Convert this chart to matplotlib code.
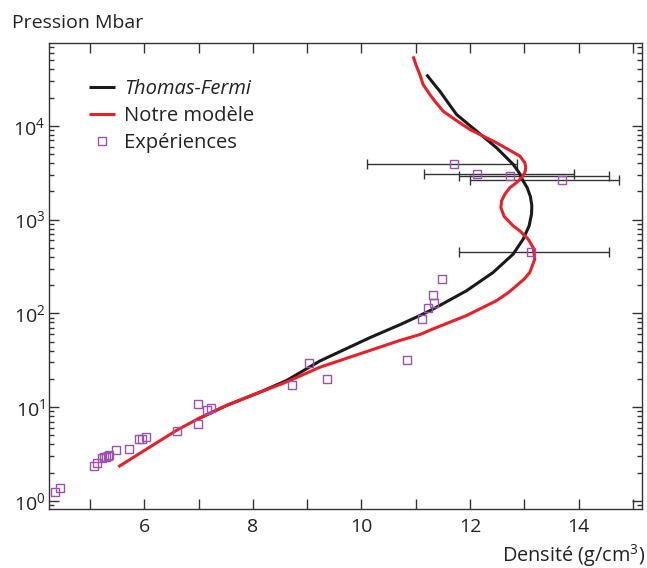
import numpy as np
import matplotlib
matplotlib.use('Agg')
import matplotlib.pyplot as plt
from matplotlib.ticker import FixedLocator, FuncFormatter, LogLocator, NullFormatter

plt.rcParams['font.family'] = ['Open Sans', 'DejaVu Sans']
plt.rcParams['mathtext.default'] = 'regular'

# Thomas-Fermi curve (density g/cm3, pressure Mbar)
tf_density = [6.965, 7.517, 8.131, 8.622, 9.236, 10.157, 10.704, 11.077, 11.322,
              11.937, 12.427, 12.796, 12.980, 13.090, 13.134, 13.140, 13.115,
              13.054, 12.980, 12.906, 12.796, 12.643, 12.490, 12.306, 12.122,
              11.937, 11.753, 11.599, 11.446, 11.322, 11.201]
tf_pressure = [7.35, 10.4, 14.4, 19.2, 31.0, 55.0, 75.3, 94.6, 111,
               174, 273, 428, 618, 857, 1141, 1400, 1750,
               2190, 2581, 3162, 3883, 4760, 5834, 7170, 8783,
               10770, 13220, 17570, 23400, 28650, 35200]

# "Notre modèle" curve
model_density = [5.521, 6.105, 6.597, 6.965, 7.517, 8.131, 8.622, 9.236, 10.157,
                 10.704, 11.077, 11.322, 11.937, 12.490, 12.700, 12.858, 13.000,
                 13.103, 13.195, 13.164, 13.072, 12.919, 12.796, 12.630, 12.570,
                 12.582, 12.643, 12.735, 12.858, 12.950, 13.011, 13.029, 13.011,
                 12.919, 12.703, 12.490, 12.243, 11.998, 11.722, 11.506, 11.354,
                 11.262, 11.138, 11.077, 11.004, 10.954]
model_pressure = [2.30, 3.75, 5.65, 7.35, 10.4, 14.4, 18.5, 26.6, 40.1,
                  51.2, 59.3, 68.2, 94.6, 136.5, 165, 197, 232,
                  273, 379, 504, 618, 758, 857, 1080, 1342,
                  1581, 1862, 2190, 2477, 2800, 3162, 3575, 4040,
                  4760, 5610, 6590, 7770, 9150, 11700, 14330, 18320,
                  21600, 27560, 35200, 45000, 55100]

# Experimental points without error bars
exp_density = [4.355, 4.447, 5.074, 5.123, 5.215, 5.258, 5.295, 5.337, 5.355,
               5.473, 5.718, 5.908, 5.967, 6.028, 6.597, 6.994, 6.989, 7.149,
               7.238, 8.715, 9.028, 9.359, 10.843, 11.120, 11.230, 11.341,
               11.317, 11.483]
exp_pressure = [1.25, 1.37, 2.34, 2.50, 2.83, 2.90, 2.94, 2.99, 3.04,
                3.51, 3.55, 4.59, 4.59, 4.74, 5.55, 10.9, 6.55, 9.22,
                9.80, 17.2, 29.2, 20.0, 31.9, 86.3, 114, 130,
                158, 230]

# Experimental points with horizontal error bars (low / high density bounds)
bar_density = [13.116, 11.698, 12.127, 12.735, 13.687]
bar_pressure = [453, 3945, 3040, 2896, 2664]
bar_low = [11.801, 10.096, 11.151, 11.801, 12.000]
bar_high = [14.564, 12.858, 13.919, 14.564, 14.748]

purple = '#9a52ad'

fig = plt.figure(figsize=(6.47, 5.68), dpi=100)
ax = fig.add_axes([0.0762, 0.1033, 0.9161, 0.8205])

bd = np.array(bar_density)
xerr = np.vstack([bd - np.array(bar_low), np.array(bar_high) - bd])
ax.errorbar(bar_density, bar_pressure, xerr=xerr, fmt='none', ecolor='#333333',
            elinewidth=1.0, capsize=3.3, capthick=1.0, zorder=1)

ax.plot(tf_density, tf_pressure, color='#1a1a1a', lw=2.2, zorder=2,
        label='Thomas-Fermi', solid_capstyle='butt', solid_joinstyle='round')
ax.plot(model_density, model_pressure, color='#e8202a', lw=2.2, zorder=2.5,
        label='Notre modèle', solid_capstyle='butt', solid_joinstyle='round')
ax.plot(exp_density + bar_density, exp_pressure + bar_pressure, ls='none',
        marker='s', ms=5.4, mfc='none', mec=purple, mew=1.0, zorder=3,
        label='Expériences')

ax.set_yscale('log')
ax.set_xlim(4.25, 15.17)
ax.set_ylim(0.81, 7.6e4)

ax.xaxis.set_major_locator(FixedLocator(np.arange(5, 16)))
ax.xaxis.set_major_formatter(FuncFormatter(lambda v, p: f'{int(round(v))}' if int(round(v)) % 2 == 0 else ''))
ax.yaxis.set_major_locator(LogLocator(base=10, numticks=20))
ax.yaxis.set_minor_locator(LogLocator(base=10, subs=np.arange(2, 10), numticks=50))
ax.yaxis.set_minor_formatter(NullFormatter())
ax.yaxis.set_major_formatter(FuncFormatter(lambda v, p: r'$10^{%d}$' % int(round(np.log10(v)))))

for s in ax.spines.values():
    s.set_color('#333333')
    s.set_linewidth(1.0)
ax.tick_params(which='both', direction='in', top=True, right=True, colors='#333333',
               labelcolor='#222222', labelsize=14)
ax.tick_params(which='major', length=7.2, width=1.0)
ax.tick_params(which='minor', length=3.6, width=1.0)
ax.tick_params(axis='x', pad=6)
ax.tick_params(axis='y', pad=3)

leg = ax.legend(loc='upper left', bbox_to_anchor=(0.0665, 0.9235), frameon=False,
                fontsize=14.5, handlelength=1.3, handletextpad=0.45, labelspacing=0.36,
                borderpad=0, borderaxespad=0)
leg.get_texts()[0].set_fontstyle('italic')
for t in leg.get_texts():
    t.set_color('#222222')

fig.text(12 / 647, 1 - 23 / 568, 'Pression Mbar', ha='left', va='center',
         fontsize=14, color='#222222')
fig.text(645 / 647, 1 - 556 / 568, 'Densité (g/cm$^{3}$)', ha='right', va='center',
         fontsize=14.3, color='#222222')

fig.savefig('out.png', dpi=100)
